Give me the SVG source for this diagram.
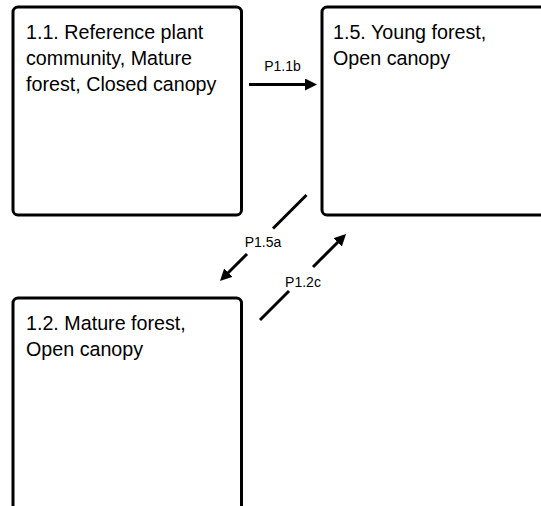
<svg xmlns="http://www.w3.org/2000/svg" width="541" height="506" viewBox="0 0 541 506">
<style>
.box{fill:#fff;stroke:#000;stroke-width:3}
.t{font-family:"Liberation Sans",Arial,sans-serif;font-size:19.7px;fill:#000}
.lbl{font-family:"Liberation Sans",Arial,sans-serif;font-size:14px;fill:#000;text-anchor:middle}
.c{fill:none;stroke:#000;stroke-width:3}
</style>
<defs>
<marker id="ah" markerUnits="userSpaceOnUse" markerWidth="12" markerHeight="12" refX="6" refY="6" orient="auto" viewBox="0 0 12 12">
<path d="M0,0 L12,6 L0,12 z" fill="#000"/>
</marker>
</defs>
<rect width="541" height="506" fill="#fff"/>
<g id="n11">
<rect class="box" x="13" y="7" width="228.5" height="208" rx="5"/>
<text class="t" x="26" y="39">1.1. Reference plant</text>
<text class="t" x="26" y="65">community, Mature</text>
<text class="t" x="26" y="91">forest, Closed canopy</text>
</g>
<g id="n15">
<rect class="box" x="322" y="7" width="230" height="208" rx="5"/>
<text class="t" x="333" y="39">1.5. Young forest,</text>
<text class="t" x="333" y="65">Open canopy</text>
</g>
<g id="n12">
<rect class="box" x="13" y="298" width="228.5" height="230" rx="5"/>
<text class="t" x="26" y="329.5">1.2. Mature forest,</text>
<text class="t" x="26" y="355.5">Open canopy</text>
</g>
<g id="connectors">
<path class="c" d="M249,84.5 L311,84.5" marker-end="url(#ah)"/>
<text class="lbl" x="282.5" y="70.5">P1.1b</text>
<path class="c" d="M306.5,195 L273,228.5"/>
<path class="c" d="M247,254 L224.2,276.8" marker-end="url(#ah)"/>
<text class="lbl" x="263" y="246.5">P1.5a</text>
<path class="c" d="M260,320 L289,291"/>
<path class="c" d="M313,267 L341.8,238.2" marker-end="url(#ah)"/>
<text class="lbl" x="303" y="286.5">P1.2c</text>
</g>
</svg>
